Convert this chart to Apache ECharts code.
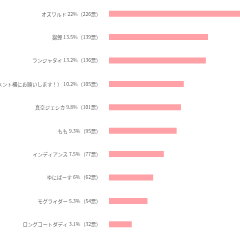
<!DOCTYPE html>
<html>
<head>
<meta charset="utf-8">
<script src="https://cdn.jsdelivr.net/npm/echarts@6/dist/echarts.min.js"></script>
<style>
  html, body { margin: 0; padding: 0; background: #fff; }
  #main { width: 240px; height: 240px; }
</style>
</head>
<body>
<div id="main"></div>
<script>
// 候補者名・割合・票数
var names = ['オズワルド', '錦鯉', 'ランジャタイ', 'その他（コメント欄にお願いします！）', '真空ジェシカ', 'もも', 'インディアンス', 'ゆにばーす', 'モグライダー', 'ロングコートダディ'];
var percents = ['22%', '13.5%', '13.2%', '10.2%', '9.8%', '9.3%', '7.5%', '6%', '5.3%', '3.1%'];
var votes = [226, 139, 136, 105, 101, 95, 77, 62, 54, 32];

var labels = [];
for (var i = 0; i < names.length; i++) {
    labels.push(names[i] + ' ' + percents[i] + '（' + votes[i] + '票）');
}

var chart = echarts.init(document.getElementById('main'));
chart.setOption({
    animation: false,
    grid: {
        left: 109,
        top: 2,
        width: 161,
        height: 234,
        containLabel: false,
        outerBoundsMode: 'none'
    },
    xAxis: {
        type: 'value',
        min: 0,
        max: 226,
        show: false
    },
    yAxis: {
        type: 'category',
        inverse: true,
        data: labels,
        axisLine: { show: false },
        axisTick: { show: false },
        axisLabel: {
            margin: 8,
            fontSize: 5,
            color: '#666',
            fontFamily: 'Noto Sans CJK JP'
        }
    },
    series: [{
        type: 'bar',
        data: votes,
        barWidth: 6,
        itemStyle: { color: '#ffa1a6' }
    }]
});
</script>
</body>
</html>
